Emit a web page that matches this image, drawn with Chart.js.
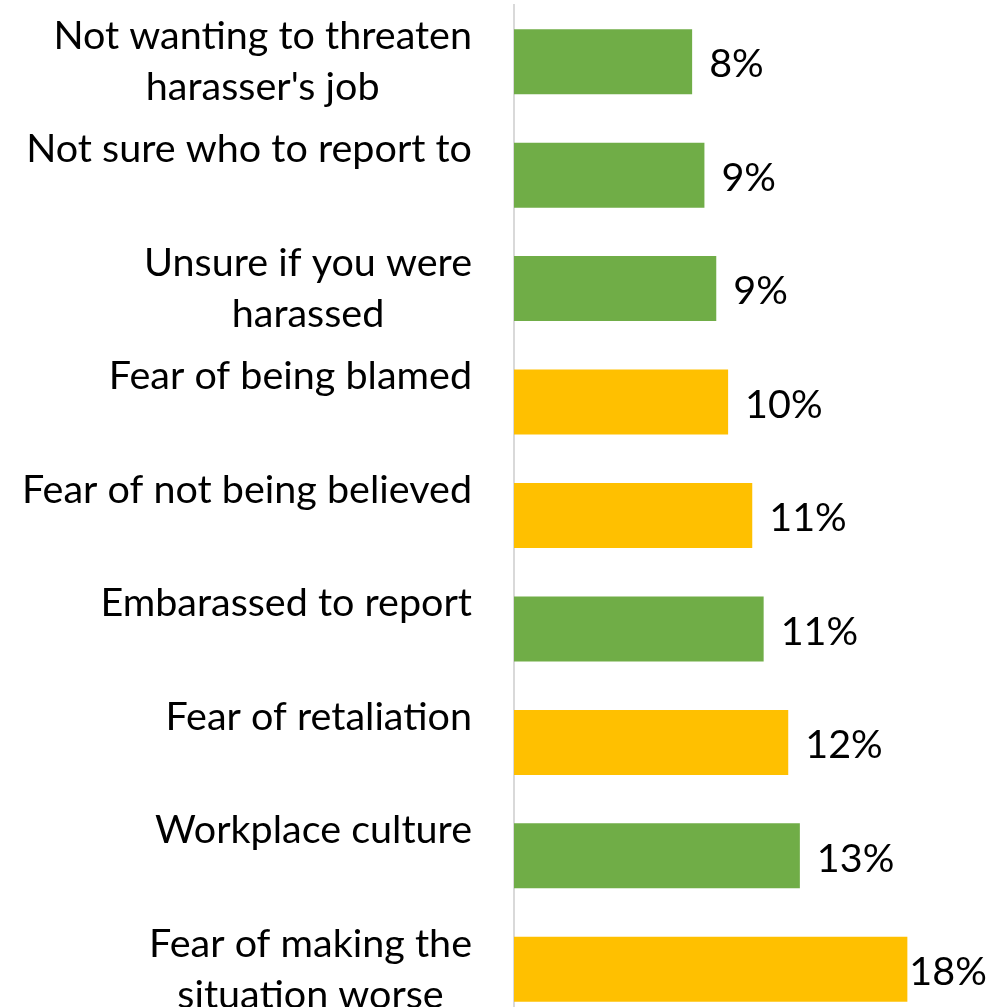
<!DOCTYPE html>
<html>
<head>
<meta charset="utf-8">
<script src="https://cdn.jsdelivr.net/npm/chart.js@4.4.1/dist/chart.umd.min.js"></script>
<style>
  html, body { margin: 0; padding: 0; background: #fff; overflow: hidden; }
  #wrap { position: relative; width: 1004px; height: 1026px; }
</style>
</head>
<body>
<div id="wrap"><canvas id="reasonsChart"></canvas></div>
<script>
  // reasons for not reporting, top to bottom
  const reasons = [
      ['Not wanting to threaten', "harasser's job"],
      ['Not sure who to report to', ''],
      ['Unsure if you were', 'harassed'],
      ['Fear of being blamed', ''],
      ['Fear of not being believed', ''],
      ['Embarassed to report', ''],
      ['Fear of retaliation', ''],
      ['Workplace culture', ''],
      ['Fear of making the', 'situation worse']
  ];
  const shares = [7.97, 8.52, 9.05, 9.58, 10.66, 11.17, 12.27, 12.79, 17.6];
  const barColors = ['#70AD47', '#70AD47', '#70AD47', '#FFC000', '#FFC000', '#70AD47', '#FFC000', '#70AD47', '#FFC000'];

  const FONT = 'Lato';
  const FONT_SIZE = 39.5;
  const LINE_H = 51;

  // category names: block right-aligned to the axis, lines centred within the block
  const categoryLabels = {
      id: 'categoryLabels',
      afterDraw(chart) {
          const ctx = chart.ctx;
          const yScale = chart.scales.y;
          const right = chart.chartArea.left - 42;
          ctx.save();
          ctx.font = FONT_SIZE + 'px ' + FONT;
          ctx.fillStyle = '#000';
          ctx.textBaseline = 'middle';
          ctx.textAlign = 'center';
          reasons.forEach(function (lines, i) {
              const y = yScale.getPixelForTick(i);
              const widest = Math.max.apply(null, lines.map(function (l) { return ctx.measureText(l).width; }));
              const cx = right - widest / 2;
              const top = y - (lines.length - 1) * LINE_H / 2;
              lines.forEach(function (line, j) {
                  ctx.fillText(line, cx, top + j * LINE_H);
              });
          });
          ctx.restore();
      }
  };

  // percent labels to the right of each bar, pulled in if they would run off the edge
  const valueLabels = {
      id: 'valueLabels',
      afterDatasetsDraw(chart) {
          const ctx = chart.ctx;
          const meta = chart.getDatasetMeta(0);
          ctx.save();
          ctx.font = FONT_SIZE + 'px ' + FONT;
          ctx.fillStyle = '#000';
          ctx.textBaseline = 'middle';
          ctx.textAlign = 'left';
          meta.data.forEach(function (bar, i) {
              const text = Math.round(shares[i]) + '%';
              const w = ctx.measureText(text).width;
              const x = Math.max(bar.x + 2, Math.min(bar.x + 17, 982 - w));
              ctx.fillText(text, x, bar.y + 3);
          });
          ctx.restore();
      }
  };

  new Chart(document.getElementById('reasonsChart').getContext('2d'), {
      type: 'bar',
      data: {
          labels: reasons,
          datasets: [{
              data: shares,
              backgroundColor: barColors,
              borderWidth: 0,
              barPercentage: 0.573,
              categoryPercentage: 1
          }]
      },
      options: {
          indexAxis: 'y',
          responsive: true,
          maintainAspectRatio: false,
          animation: false,
          layout: { padding: { top: 5, right: 43, bottom: 0, left: 0 } },
          scales: {
              x: { display: false, min: 0, max: 20 },
              y: {
                  grid: { display: false, drawTicks: false },
                  border: { display: true, color: '#d9d9d9', width: 2 },
                  ticks: { display: false },
                  afterFit: function (scale) {
                      // fixed axis width, and let the end rows run past the canvas
                      scale.width = 514;
                      scale.paddingTop = 0;
                      scale.paddingBottom = 0;
                  }
              }
          },
          plugins: {
              legend: { display: false },
              tooltip: { enabled: false }
          }
      },
      plugins: [categoryLabels, valueLabels]
  });
</script>
</body>
</html>
